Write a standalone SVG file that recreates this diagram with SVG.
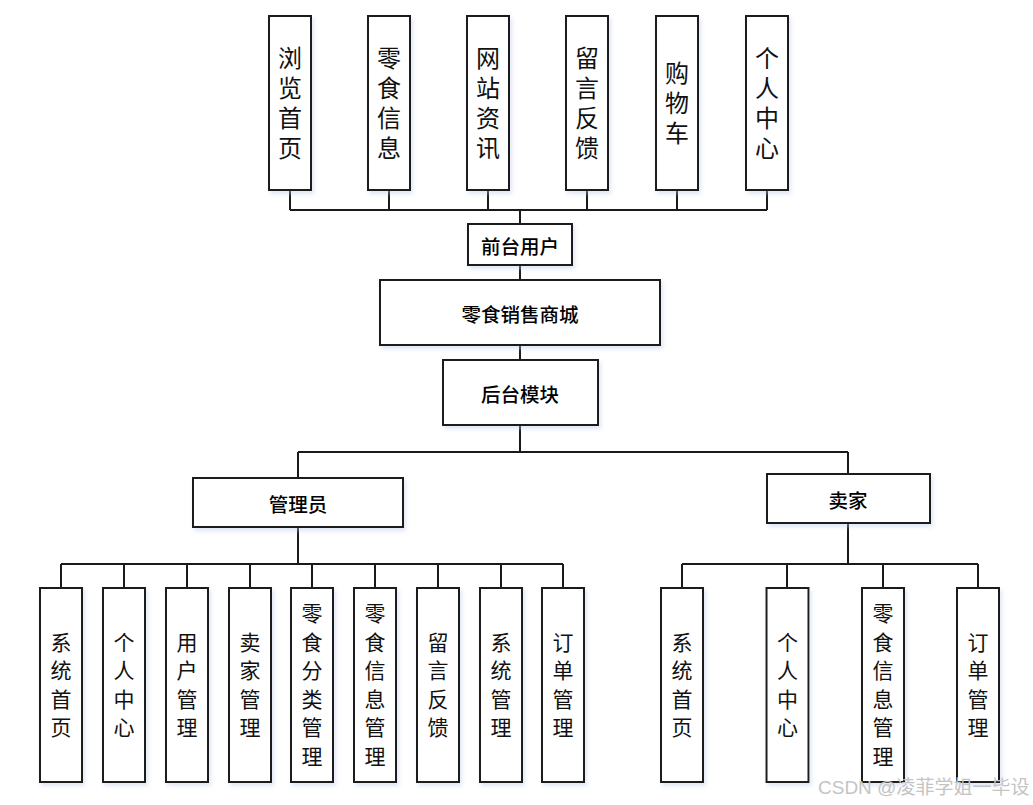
<svg xmlns="http://www.w3.org/2000/svg" width="1033" height="805" viewBox="0 0 1033 805">
<defs>
<filter id="sh" x="-20%" y="-20%" width="140%" height="140%">
<feDropShadow dx="2" dy="3" stdDeviation="2" flood-color="#b8c8e6" flood-opacity="0.45"/>
</filter>
<style>
.box{fill:#fff;stroke:#1a1a1a;stroke-width:2;filter:url(#sh)}
.ln{stroke:#1a1a1a;stroke-width:2;fill:none}
.vt{font-family:"Noto Sans CJK SC","Noto Sans CJK JP",sans-serif;font-size:24px;fill:#111;text-anchor:middle;writing-mode:vertical-rl;letter-spacing:6px}
.vb{font-family:"Noto Sans CJK SC","Noto Sans CJK JP",sans-serif;font-size:21px;fill:#111;text-anchor:middle;writing-mode:vertical-rl;letter-spacing:7.5px}
.ht{font-family:"Noto Sans CJK SC","Noto Sans CJK JP",sans-serif;font-size:19.5px;font-weight:500;fill:#000;text-anchor:middle;dominant-baseline:central}
.wm{font-family:"Liberation Sans","Noto Sans CJK SC",sans-serif;font-size:19px;fill:#c4c4c4}
</style>
</defs>
<rect width="1033" height="805" fill="#fff"/>
<g id="connectors">
<path class="ln" d="M290 190V210M389 190V210M488 190V210M587 190V210M677 190V210M767 190V210M290 210H767M520 210V224"/>
<path class="ln" d="M520 265V280M520 345V360M520 425V452M298 452H848M298 452V478M848 452V474"/>
<path class="ln" d="M298 527V564M61 564H563M61 564V588M124 564V588M187 564V588M250 564V588M312 564V588M375 564V588M438 564V588M501 564V588M563 564V588"/>
<path class="ln" d="M848 523V564M682 564H978M682 564V588M787 564V588M883 564V588M978 564V588"/>
</g>
<g id="n-liulan"><rect class="box" x="269" y="16" width="42" height="174"/><text class="vt" x="290" y="106">浏览首页</text></g>
<g id="n-lingshi"><rect class="box" x="368" y="16" width="42" height="174"/><text class="vt" x="389" y="106">零食信息</text></g>
<g id="n-zixun"><rect class="box" x="467" y="16" width="42" height="174"/><text class="vt" x="488" y="106">网站资讯</text></g>
<g id="n-liuyan"><rect class="box" x="566" y="16" width="42" height="174"/><text class="vt" x="587" y="106">留言反馈</text></g>
<g id="n-gouwuche"><rect class="box" x="656" y="16" width="42" height="174"/><text class="vt" x="677" y="106">购物车</text></g>
<g id="n-geren"><rect class="box" x="746" y="16" width="42" height="174"/><text class="vt" x="767" y="106">个人中心</text></g>
<g id="n-qiantai"><rect class="box" x="468" y="224" width="104" height="41"/><text class="ht" x="520" y="245">前台用户</text></g>
<g id="n-shangcheng"><rect class="box" x="380" y="280" width="280" height="65"/><text class="ht" x="520" y="313">零食销售商城</text></g>
<g id="n-houtai"><rect class="box" x="443" y="360" width="155" height="65"/><text class="ht" x="520" y="393">后台模块</text></g>
<g id="n-admin"><rect class="box" x="193" y="478" width="210" height="49"/><text class="ht" x="298" y="503">管理员</text></g>
<g id="n-seller"><rect class="box" x="767" y="474" width="163" height="49"/><text class="ht" x="848" y="499">卖家</text></g>
<g id="a1"><rect class="box" x="40" y="588" width="42" height="194"/><text class="vb" x="61" y="688.5">系统首页</text></g>
<g id="a2"><rect class="box" x="103" y="588" width="42" height="194"/><text class="vb" x="124" y="688.5">个人中心</text></g>
<g id="a3"><rect class="box" x="166" y="588" width="42" height="194"/><text class="vb" x="187" y="688.5">用户管理</text></g>
<g id="a4"><rect class="box" x="229" y="588" width="42" height="194"/><text class="vb" x="250" y="688.5">卖家管理</text></g>
<g id="a5"><rect class="box" x="291" y="588" width="42" height="194"/><text class="vb" x="312" y="688.5">零食分类管理</text></g>
<g id="a6"><rect class="box" x="354" y="588" width="42" height="194"/><text class="vb" x="375" y="688.5">零食信息管理</text></g>
<g id="a7"><rect class="box" x="417" y="588" width="42" height="194"/><text class="vb" x="438" y="688.5">留言反馈</text></g>
<g id="a8"><rect class="box" x="480" y="588" width="42" height="194"/><text class="vb" x="501" y="688.5">系统管理</text></g>
<g id="a9"><rect class="box" x="542" y="588" width="42" height="194"/><text class="vb" x="563" y="688.5">订单管理</text></g>
<g id="s1"><rect class="box" x="661" y="588" width="42" height="194"/><text class="vb" x="682" y="688.5">系统首页</text></g>
<g id="s2"><rect class="box" x="766.5" y="588" width="42" height="194"/><text class="vb" x="787.5" y="688.5">个人中心</text></g>
<g id="s3"><rect class="box" x="862" y="588" width="42" height="194"/><text class="vb" x="883" y="688.5">零食信息管理</text></g>
<g id="s4"><rect class="box" x="957" y="588" width="42" height="194"/><text class="vb" x="978" y="688.5">订单管理</text></g>
<text class="wm" x="818" y="794">CSDN @凌菲学姐一毕设</text>
</svg>
